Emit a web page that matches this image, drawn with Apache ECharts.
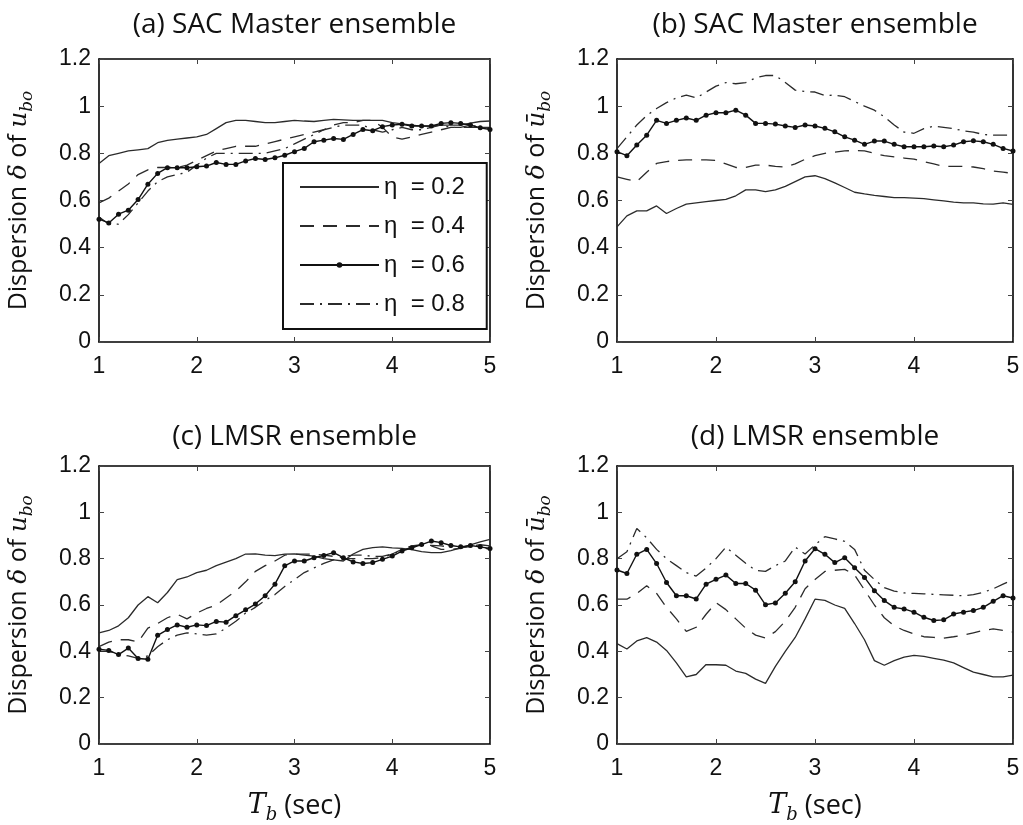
<!DOCTYPE html>
<html><head><meta charset="utf-8">
<script src="https://cdn.jsdelivr.net/npm/echarts@6/dist/echarts.min.js"></script>
<style>html,body{margin:0;padding:0;background:#fff}#c{width:1023px;height:825px}</style>
</head><body><div id="c"></div>
<script>
// ---------------- data ----------------
const T = [1.0,1.1,1.2,1.3,1.4,1.5,1.6,1.7,1.8,1.9,
           2.0,2.1,2.2,2.3,2.4,2.5,2.6,2.7,2.8,2.9,
           3.0,3.1,3.2,3.3,3.4,3.5,3.6,3.7,3.8,3.9,
           4.0,4.1,4.2,4.3,4.4,4.5,4.6,4.7,4.8,4.9,5.0];
const seriesNames = ['η = 0.2','η = 0.4','η = 0.6','η = 0.8'];
const panelTitles = ['(a) SAC Master ensemble','(b) SAC Master ensemble','(c) LMSR ensemble','(d) LMSR ensemble'];
const xTickValues = [1,2,3,4,5];
const yTickValues = [0,0.2,0.4,0.6,0.8,1,1.2];

// (a) SAC Master, u_bo
const a02 = [0.757,0.79,0.80,0.81,0.815,0.82,0.845,0.855,0.86,0.865, 0.87,0.88,0.905,0.93,0.94,0.94,0.935,0.93,0.93,0.935, 0.94,0.937,0.935,0.94,0.944,0.942,0.94,0.94,0.94,0.94, 0.93,0.925,0.92,0.915,0.915,0.92,0.92,0.92,0.928,0.935, 0.937];
const a04 = [0.59,0.61,0.64,0.67,0.71,0.73,0.74,0.74,0.74,0.75, 0.77,0.79,0.81,0.82,0.83,0.83,0.83,0.84,0.85,0.86, 0.87,0.88,0.89,0.90,0.92,0.93,0.93,0.94,0.94,0.91, 0.87,0.86,0.87,0.88,0.89,0.90,0.91,0.91,0.91,0.91, 0.905];
const a06 = [0.521,0.505,0.542,0.559,0.604,0.669,0.715,0.739,0.739,0.739, 0.743,0.746,0.761,0.753,0.753,0.768,0.778,0.774,0.781,0.792, 0.807,0.821,0.849,0.856,0.863,0.859,0.88,0.901,0.896,0.913, 0.92,0.923,0.916,0.916,0.916,0.927,0.93,0.927,0.92,0.908, 0.901];
const a08 = [0.53,0.50,0.50,0.54,0.59,0.64,0.68,0.70,0.71,0.72, 0.75,0.78,0.80,0.80,0.80,0.80,0.80,0.80,0.81,0.82, 0.84,0.86,0.88,0.90,0.91,0.92,0.92,0.92,0.90,0.89, 0.90,0.91,0.90,0.90,0.91,0.92,0.91,0.91,0.92,0.91, 0.91];

// (b) SAC Master, u-bar_bo
const b02 = [0.488,0.535,0.556,0.556,0.577,0.545,0.566,0.585,0.59,0.595, 0.60,0.605,0.62,0.645,0.645,0.638,0.645,0.66,0.68,0.70, 0.705,0.693,0.675,0.655,0.635,0.628,0.622,0.617,0.612,0.612, 0.61,0.608,0.603,0.598,0.593,0.59,0.59,0.586,0.585,0.59, 0.584];
const b04 = [0.70,0.69,0.68,0.72,0.757,0.765,0.77,0.772,0.773,0.772, 0.77,0.755,0.74,0.74,0.75,0.75,0.745,0.742,0.755,0.775, 0.79,0.80,0.805,0.81,0.812,0.81,0.80,0.79,0.785,0.78, 0.775,0.765,0.755,0.745,0.745,0.745,0.742,0.735,0.725,0.72, 0.715];
const b06 = [0.807,0.79,0.835,0.877,0.94,0.927,0.94,0.95,0.94,0.962, 0.972,0.972,0.983,0.962,0.927,0.927,0.924,0.916,0.91,0.92, 0.916,0.906,0.891,0.87,0.856,0.838,0.852,0.852,0.838,0.828, 0.828,0.828,0.831,0.828,0.835,0.849,0.853,0.849,0.838,0.821, 0.81];
const b08 = [0.82,0.87,0.92,0.96,0.99,1.015,1.035,1.047,1.035,1.06, 1.085,1.10,1.095,1.10,1.12,1.13,1.13,1.10,1.068,1.062, 1.06,1.045,1.047,1.04,1.02,1.0,0.983,0.955,0.92,0.89, 0.885,0.905,0.915,0.91,0.905,0.895,0.89,0.88,0.877,0.877, 0.877];

// (c) LMSR, u_bo
const c02 = [0.48,0.49,0.51,0.545,0.60,0.636,0.61,0.654,0.71,0.721, 0.74,0.75,0.77,0.785,0.80,0.82,0.821,0.815,0.813,0.82, 0.821,0.815,0.811,0.80,0.795,0.79,0.82,0.84,0.848,0.851, 0.847,0.844,0.839,0.83,0.826,0.826,0.835,0.847,0.86,0.872, 0.883];
const c04 = [0.42,0.44,0.45,0.45,0.44,0.50,0.52,0.545,0.56,0.54, 0.565,0.585,0.60,0.63,0.66,0.70,0.745,0.77,0.79,0.815, 0.82,0.82,0.82,0.815,0.81,0.80,0.80,0.80,0.80,0.805, 0.82,0.84,0.855,0.86,0.855,0.84,0.84,0.845,0.855,0.86, 0.855];
const c06 = [0.409,0.404,0.386,0.414,0.369,0.366,0.469,0.494,0.514,0.504, 0.514,0.511,0.529,0.526,0.554,0.579,0.604,0.64,0.69,0.769, 0.79,0.79,0.804,0.814,0.826,0.804,0.786,0.779,0.783,0.797, 0.811,0.833,0.847,0.861,0.876,0.869,0.857,0.851,0.857,0.851, 0.844];
const c08 = [0.40,0.40,0.39,0.38,0.37,0.38,0.42,0.45,0.47,0.48, 0.475,0.47,0.475,0.50,0.53,0.565,0.59,0.62,0.645,0.68, 0.71,0.74,0.76,0.78,0.795,0.81,0.815,0.815,0.81,0.81, 0.82,0.835,0.85,0.857,0.857,0.855,0.85,0.848,0.852,0.85, 0.84];

// (d) LMSR, u-bar_bo
const d02 = [0.433,0.41,0.445,0.459,0.44,0.404,0.35,0.29,0.30,0.343, 0.342,0.34,0.315,0.305,0.28,0.262,0.335,0.40,0.46,0.54, 0.625,0.62,0.60,0.585,0.52,0.45,0.36,0.34,0.36,0.375, 0.383,0.378,0.37,0.362,0.35,0.33,0.31,0.30,0.29,0.29, 0.297];
const d04 = [0.625,0.625,0.65,0.683,0.65,0.59,0.54,0.486,0.504,0.56, 0.61,0.58,0.54,0.50,0.47,0.458,0.485,0.53,0.59,0.67, 0.71,0.745,0.75,0.754,0.73,0.665,0.60,0.545,0.51,0.49, 0.475,0.463,0.46,0.457,0.463,0.47,0.48,0.49,0.497,0.49, 0.483];
const d06 = [0.751,0.736,0.819,0.84,0.779,0.697,0.64,0.64,0.626,0.69, 0.711,0.729,0.693,0.693,0.664,0.601,0.609,0.651,0.70,0.79, 0.843,0.819,0.783,0.804,0.761,0.719,0.661,0.619,0.59,0.583, 0.569,0.547,0.533,0.536,0.561,0.569,0.576,0.59,0.616,0.64, 0.63];
const d08 = [0.80,0.83,0.93,0.89,0.84,0.80,0.77,0.74,0.725,0.76, 0.80,0.85,0.815,0.78,0.75,0.745,0.77,0.79,0.85,0.82, 0.86,0.895,0.885,0.875,0.84,0.75,0.71,0.675,0.66,0.652, 0.65,0.648,0.646,0.644,0.642,0.64,0.645,0.655,0.67,0.69, 0.71];

const panelData = [[a02,a04,a06,a08],[b02,b04,b06,b08],[c02,c04,c06,c08],[d02,d04,d06,d08]];
const yNames = ['Dispersion {m|δ} of {m|u}{s|bo}','Dispersion {m|δ} of {m|ū}{s|bo}',
                'Dispersion {m|δ} of {m|u}{s|bo}','Dispersion {m|δ} of {m|ū}{s|bo}'];
const xName = '{m|T}{s|b} (sec)';

// ---------------- layout / style ----------------
const grids = [
  {left:99, top:59, width:391, height:283},
  {left:617, top:59, width:396, height:283},
  {left:99, top:466, width:391, height:280},
  {left:617, top:466, width:396, height:280}
];
const titleY = [11, 423];
const seriesStyles = [
  {symbol:'none', itemStyle:{color:'#2b2b2b'}, lineStyle:{color:'#2b2b2b', width:1.3, type:'solid'}},
  {symbol:'none', itemStyle:{color:'#2b2b2b'}, lineStyle:{color:'#2b2b2b', width:1.3, type:[14,9]}},
  {symbol:'circle', symbolSize:5, itemStyle:{color:'#111'}, lineStyle:{color:'#111', width:1.4, type:'solid'}},
  {symbol:'none', itemStyle:{color:'#2b2b2b'}, lineStyle:{color:'#2b2b2b', width:1.3, type:[14,6,2,6]}}
];
const tickFont = {fontFamily:'Liberation Sans', fontSize:23, color:'#111'};
const axisLine = {show:true, onZero:false, lineStyle:{color:'#000', width:1.6}};
const axisTick = {show:true, inside:true, length:5, lineStyle:{color:'#444', width:1}};

const xAxes = [], yAxes = [], series = [], titles = [];
grids.forEach((g, p) => {
  const bottomRow = p >= 2;
  xAxes.push({
    type:'value', gridIndex:p, position:'bottom', min:xTickValues[0], max:xTickValues[xTickValues.length-1], interval:1,
    axisLine, axisTick, splitLine:{show:false},
    axisLabel:{...tickFont, margin:13},
    name: bottomRow ? xName : '', nameLocation:'middle', nameGap:44,
    nameTextStyle:{fontFamily:'Open Sans', fontSize:27, color:'#111', lineHeight:36,
      rich:{ m:{fontFamily:'DejaVu Serif', fontStyle:'italic', fontSize:27, lineHeight:36, color:'#111'},
             s:{fontFamily:'DejaVu Serif', fontStyle:'italic', fontSize:18, lineHeight:18, verticalAlign:'bottom', color:'#111'} }}
  });
  xAxes.push({
    type:'value', gridIndex:p, position:'top', min:xTickValues[0], max:xTickValues[xTickValues.length-1], interval:1,
    axisLine, axisTick, splitLine:{show:false}, axisLabel:{show:false}
  });
  yAxes.push({
    type:'value', gridIndex:p, position:'left', min:yTickValues[0], max:yTickValues[yTickValues.length-1], interval:0.2,
    axisLine, axisTick, splitLine:{show:false},
    axisLabel:{...tickFont, margin:8},
    name: yNames[p], nameLocation:'middle', nameRotate:90, nameGap:63,
    nameTextStyle:{fontFamily:'Open Sans', fontSize:25, color:'#111', lineHeight:34,
      rich:{ m:{fontFamily:'DejaVu Serif', fontStyle:'italic', fontSize:25, lineHeight:34, color:'#111'},
             s:{fontFamily:'DejaVu Serif', fontStyle:'italic', fontSize:17, lineHeight:17, verticalAlign:'bottom', color:'#111'} }}
  });
  yAxes.push({
    type:'value', gridIndex:p, position:'right', min:yTickValues[0], max:yTickValues[yTickValues.length-1], interval:0.2,
    axisLine, axisTick, splitLine:{show:false}, axisLabel:{show:false}
  });
  titles.push({
    text: panelTitles[p], left: g.left + g.width/2, top: titleY[bottomRow?1:0], textAlign:'center', padding:0,
    textStyle:{fontFamily:'Open Sans', fontSize:28, fontWeight:'normal', color:'#111'}
  });
  panelData[p].forEach((vals, s) => {
    series.push(Object.assign({
      name: seriesNames[s], type:'line', xAxisIndex:p*2, yAxisIndex:p*2,
      data: T.map((t,i)=>[t, vals[i]]), showAllSymbol:true, animation:false,
      emphasis:{disabled:true}, silent:true, z: s===2 ? 4 : 3
    }, seriesStyles[s]));
  });
});

const legendData = seriesNames.map((n, s) =>
  s === 2 ? {name:n} : {name:n, itemStyle:{opacity:0}});

const chart = echarts.init(document.getElementById('c'), null, {renderer:'canvas'});
chart.setOption({
  backgroundColor:'#fff',
  animation:false,
  title: titles,
  grid: grids,
  xAxis: xAxes,
  yAxis: yAxes,
  legend: {
    data: legendData, orient:'vertical', left:283, top:163,
    itemWidth:79, itemHeight:7, itemGap:13,
    padding:[11,22,12,16],
    backgroundColor:'#fff', borderColor:'#111', borderWidth:2, borderRadius:0,
    formatter: n => n.replace(' = ', '  = '),
    textStyle:{fontFamily:'Liberation Sans', fontSize:24, lineHeight:26, color:'#111'},
    selectedMode:false, z:10
  },
  series
});
</script></body></html>
